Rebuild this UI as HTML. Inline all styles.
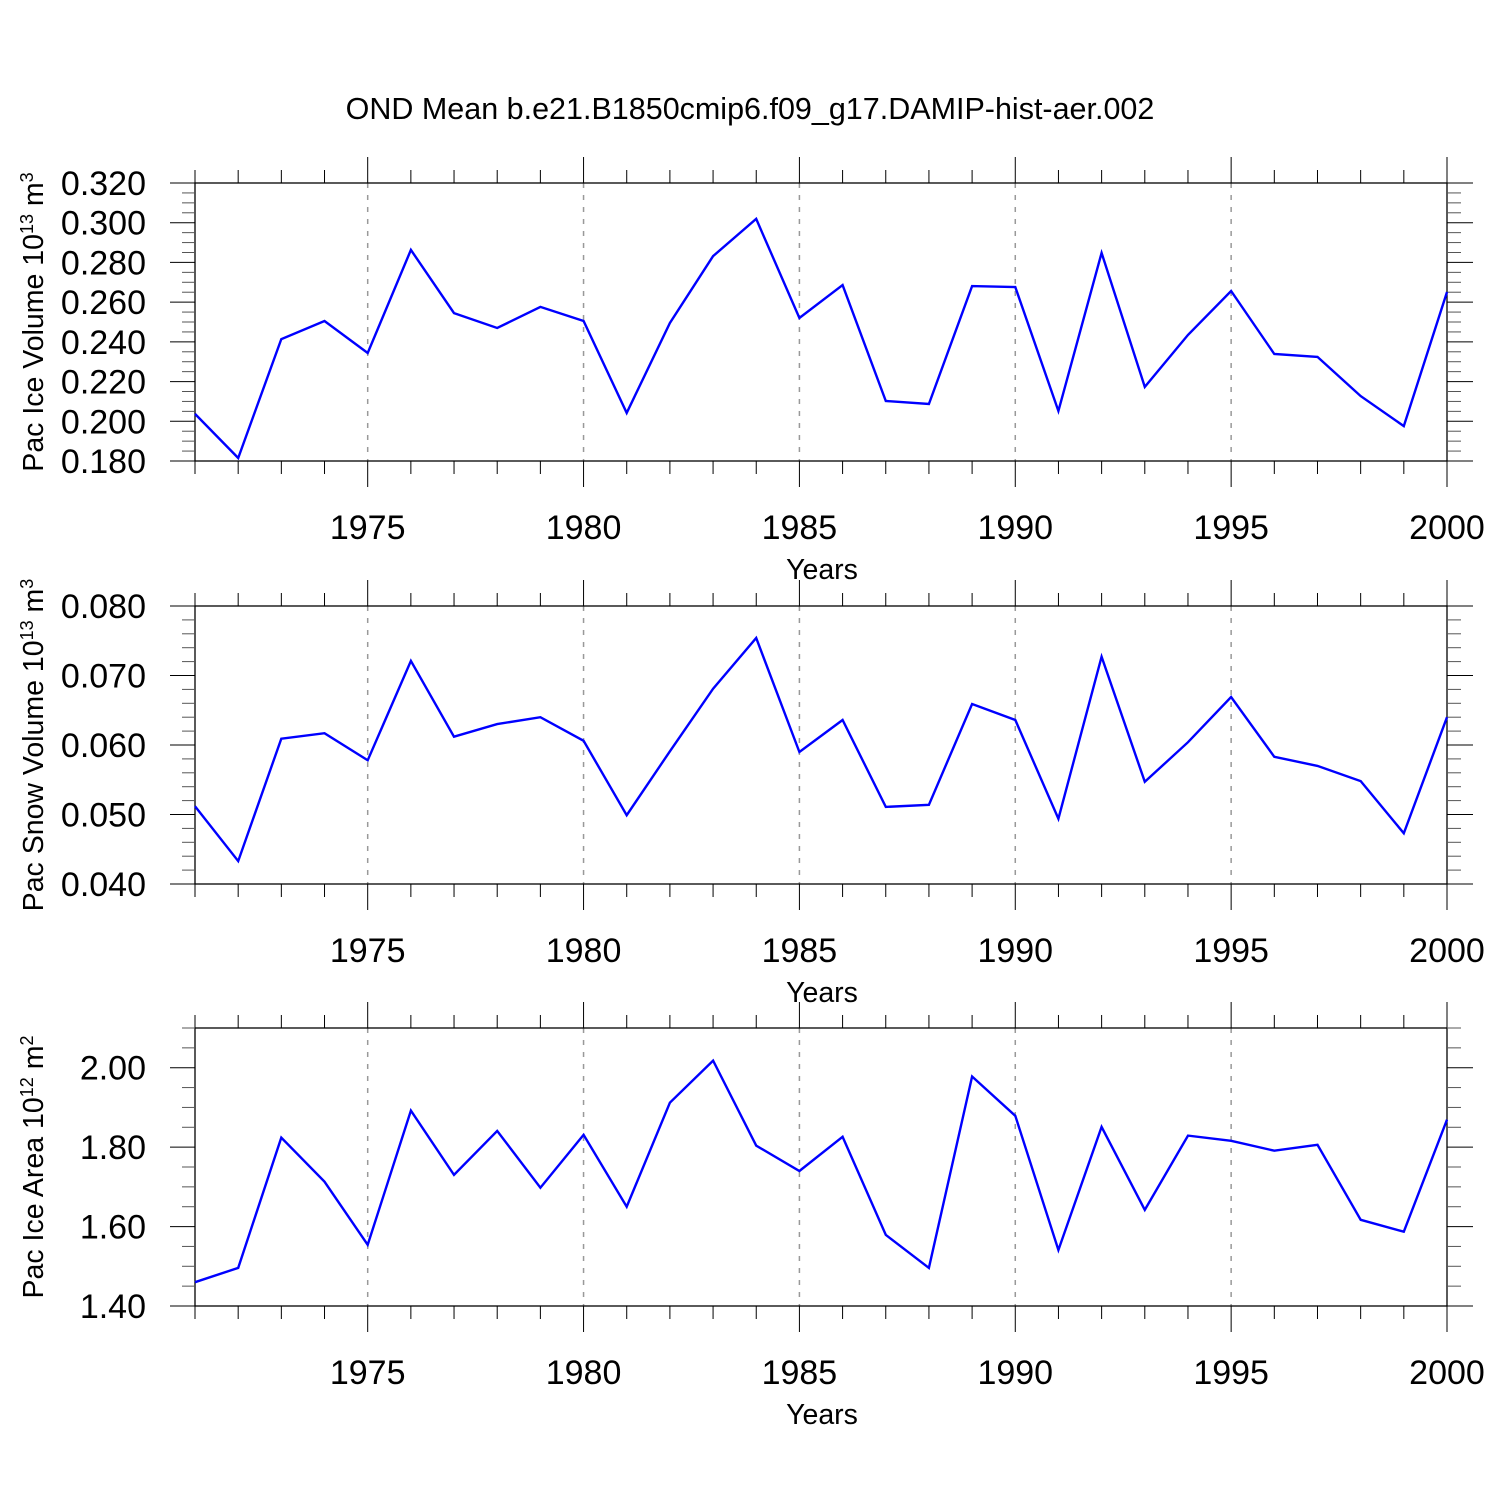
<!DOCTYPE html>
<html><head><meta charset="utf-8"><style>
html,body{margin:0;padding:0;background:#fff;}
svg{display:block;font-family:"Liberation Sans",Arial,sans-serif;}
</style></head><body>
<svg id="chart" width="1500" height="1500" viewBox="0 0 1500 1500">
<text x="750" y="119" font-size="30.5" text-anchor="middle">OND Mean b.e21.B1850cmip6.f09_g17.DAMIP-hist-aer.002</text>
</svg>
<script>
const years = [1971,1972,1973,1974,1975,1976,1977,1978,1979,1980,1981,1982,1983,1984,1985,1986,1987,1988,1989,1990,1991,1992,1993,1994,1995,1996,1997,1998,1999,2000];
const iceVolume = [0.2037,0.1815,0.2414,0.2505,0.2344,0.2863,0.2545,0.2470,0.2576,0.2505,0.2042,0.2495,0.2832,0.3019,0.2520,0.2686,0.2102,0.2087,0.2681,0.2676,0.2052,0.2848,0.2173,0.2435,0.2656,0.2339,0.2324,0.2127,0.1976,0.2651];
const snowVolume = [0.0512,0.0433,0.0609,0.0617,0.0578,0.0721,0.0612,0.0630,0.0640,0.0606,0.0499,0.0591,0.0681,0.0754,0.0590,0.0636,0.0511,0.0514,0.0659,0.0636,0.0494,0.0727,0.0547,0.0604,0.0669,0.0583,0.0570,0.0548,0.0473,0.0640];
const iceArea = [1.460,1.496,1.824,1.713,1.554,1.892,1.730,1.841,1.698,1.831,1.650,1.912,2.018,1.804,1.740,1.826,1.579,1.496,1.978,1.879,1.541,1.851,1.642,1.829,1.816,1.791,1.806,1.617,1.587,1.869];
const xTickLabels = [1975,1980,1985,1990,1995,2000];
const iceVolTicks = [0.18,0.20,0.22,0.24,0.26,0.28,0.30,0.32];
const snowVolTicks = [0.04,0.05,0.06,0.07,0.08];
const iceAreaTicks = [1.4,1.6,1.8,2.0];

const NS="http://www.w3.org/2000/svg";
const svg=document.getElementById('chart');
function mk(tag,attrs,parent){const e=document.createElementNS(NS,tag);for(const k in attrs)e.setAttribute(k,attrs[k]);(parent||svg).appendChild(e);return e;}

const X0=195,X1=1447,XMIN=1971,XMAX=2000;
function xs(v){return X0+(v-XMIN)/(XMAX-XMIN)*(X1-X0);}

const panels=[
 {top:183,bot:461,ymin:0.18,ymax:0.32,vals:iceVolume,ticks:iceVolTicks,minor:0.005,dec:3,title:'Pac Ice Volume 10',sup:'13',unit:' m',usup:'3',name:'ice-volume'},
 {top:606,bot:884,ymin:0.04,ymax:0.08,vals:snowVolume,ticks:snowVolTicks,minor:0.002,dec:3,title:'Pac Snow Volume 10',sup:'13',unit:' m',usup:'3',name:'snow-volume'},
 {top:1028,bot:1306,ymin:1.4,ymax:2.1,vals:iceArea,ticks:iceAreaTicks,minor:0.05,dec:2,title:'Pac Ice Area 10',sup:'12',unit:' m',usup:'2',name:'ice-area'}
];

panels.forEach(p=>{
  const g=mk('g',{});
  
  
  const ys=v=>p.bot-(v-p.ymin)/(p.ymax-p.ymin)*(p.bot-p.top);
  xTickLabels.forEach(t=>{
    if(t<XMAX){const l=mk('line',{x1:xs(t),x2:xs(t),y1:p.top,y2:p.bot,stroke:'#999','stroke-width':1.5,'stroke-dasharray':'5,7'},g);
    
    }
  });
  const fr=mk('rect',{x:X0,y:p.top,width:X1-X0,height:p.bot-p.top,fill:'none',stroke:'#000','stroke-width':1.3},g);
  
  
  for(let yr=XMIN;yr<=XMAX;yr++){
    const major=yr%5===0;const L=major?26:13;const x=xs(yr);
    mk('line',{x1:x,x2:x,y1:p.top-L,y2:p.top,stroke:'#000','stroke-width':1},g);
    mk('line',{x1:x,x2:x,y1:p.bot,y2:p.bot+L,stroke:'#000','stroke-width':1},g);
  }
  xTickLabels.forEach(t=>{
    const tx=mk('text',{x:xs(t),y:p.bot+78,'font-size':34,'text-anchor':'middle'},g);
    tx.textContent=t;
    
    
  });
  const n=Math.round((p.ymax-p.ymin)/p.minor);
  for(let i=0;i<=n;i++){
    const v=p.ymin+i*p.minor;const y=ys(v);
    const major=p.ticks.some(t=>Math.abs(t-v)<1e-9);const L=major?25:13;
    mk('line',{x1:X0-L,x2:X0,y1:y,y2:y,stroke:major?'#000':'#555','stroke-width':1},g);
    mk('line',{x1:X1,x2:X1+L+1,y1:y,y2:y,stroke:major?'#000':'#555','stroke-width':1},g);
  }
  p.ticks.forEach(t=>{
    const tx=mk('text',{x:146,y:ys(t)+12,'font-size':34,'text-anchor':'end'},g);
    tx.textContent=t.toFixed(p.dec);
    
    
  });
  const xt=mk('text',{x:822,y:p.bot+118,'font-size':28.5,'text-anchor':'middle'},g);
  xt.textContent='Years';
  
  
  const cy=(p.top+p.bot)/2;
  const yt=mk('text',{x:0,y:0,'font-size':28.5,'text-anchor':'middle',transform:`translate(43,${cy}) rotate(-90)`},g);
  
  
  const parts=[[p.title,0,28.5],[p.sup,-10,18],[p.unit,10,28.5],[p.usup,-10,18]];
  parts.forEach(([s,dy,fs])=>{const ts=mk('tspan',{dy:dy,'font-size':fs},yt);ts.textContent=s;});
  const pts=years.map((yr,i)=>xs(yr).toFixed(1)+','+ys(p.vals[i]).toFixed(1)).join(' ');
  const pl=mk('polyline',{points:pts,fill:'none',stroke:'#0000ff','stroke-width':2.4,'stroke-linejoin':'miter'},g);
  
  
});
</script>
</body></html>
